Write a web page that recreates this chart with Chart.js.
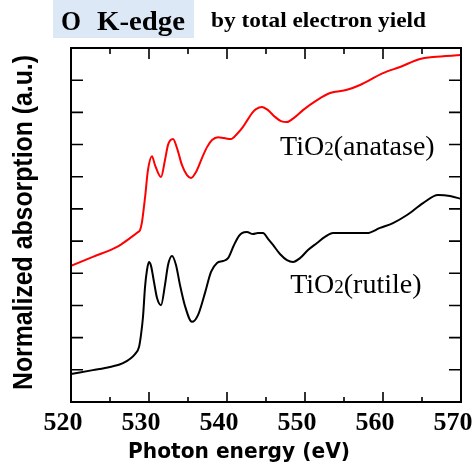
<!DOCTYPE html>
<html>
<head>
<meta charset="utf-8">
<script src="https://cdn.jsdelivr.net/npm/chart.js@4.4.1/dist/chart.umd.min.js"></script>
<style>
  html, body { margin: 0; padding: 0; background: #fff; }
  #wrap { width: 473px; height: 475px; }
</style>
</head>
<body>
<div id="wrap"><canvas id="xasChart" width="473" height="475"></canvas></div>
<script>
// O K-edge XAS, total electron yield
const xTicks = [520, 530, 540, 550, 560, 570];

const anataseEnergy = [520.0, 522.8, 525.9, 527.6, 528.6, 528.85, 529.1, 529.5, 529.87, 530.38, 530.77, 531.54,
  532.05, 532.44, 533.08, 533.59, 534.23, 534.87, 535.38, 536.03, 536.79, 537.44, 538.08, 538.85, 539.62,
  540.51, 541.28, 542.05, 542.69, 543.21, 543.72, 544.49, 545.26, 546.15, 546.92, 547.69, 548.59, 549.74,
  551.54, 553.21, 555.38, 557.05, 560.0, 562.18, 564.74, 566.41, 570.0];
const anataseAbs = [4.23, 4.51, 4.82, 5.10, 5.28, 5.34, 5.59, 6.37, 7.21, 7.64, 7.36, 6.99,
  7.52, 7.99, 8.17, 7.89, 7.36, 7.05, 6.96, 7.15, 7.58, 7.92, 8.14, 8.23, 8.20,
  8.17, 8.33, 8.55, 8.79, 8.98, 9.10, 9.17, 9.07, 8.86, 8.73, 8.70, 8.83, 9.07,
  9.38, 9.60, 9.70, 9.85, 10.22, 10.41, 10.66, 10.72, 10.78];

const rutileEnergy = [520.0, 522.8, 525.0, 526.67, 528.21, 528.72, 528.97, 529.23, 529.49, 529.74, 530.0,
  530.26, 530.64, 531.03, 531.54, 532.05, 532.44, 532.95, 533.46, 533.97, 534.62, 535.51, 536.28,
  537.18, 537.95, 538.72, 539.49, 540.13, 540.9, 541.54, 541.92, 542.56, 543.33, 543.97, 544.62,
  545.26, 545.9, 546.79, 547.69, 548.46, 549.36, 550.38, 551.54, 552.56, 553.59, 555.77, 557.95,
  559.62, 561.28, 563.08, 565.13, 567.05, 568.59, 570.0];
const rutileAbs = [0.87, 0.99, 1.09, 1.21, 1.49, 1.71, 2.08, 2.64, 3.57, 4.10, 4.35,
  4.23, 3.73, 3.23, 3.01, 3.64, 4.26, 4.54, 4.26, 3.64, 2.98, 2.49, 2.70,
  3.39, 4.04, 4.32, 4.38, 4.47, 4.88, 5.16, 5.25, 5.28, 5.22, 5.25, 5.25,
  5.07, 4.88, 4.60, 4.41, 4.35, 4.47, 4.72, 4.94, 5.13, 5.25, 5.25, 5.25,
  5.41, 5.56, 5.81, 6.18, 6.43, 6.40, 6.31];

const yMax = 11;

function toPoints(xs, ys) {
  return xs.map((x, i) => ({ x: x, y: ys[i] }));
}

// draw text squeezed/stretched to a given width
function fitText(ctx, text, x, y, width) {
  const w = ctx.measureText(text).width;
  ctx.save();
  ctx.translate(x, y);
  ctx.scale(width / w, 1);
  ctx.fillText(text, 0, 0);
  ctx.restore();
}

function drawFormula(ctx, x, y, tail) {
  ctx.textAlign = 'left';
  ctx.textBaseline = 'alphabetic';
  ctx.font = '28px "Liberation Serif"';
  ctx.fillText('TiO', x, y);
  x += ctx.measureText('TiO').width;
  ctx.font = '19px "Liberation Serif"';
  ctx.fillText('2', x, y);
  x += ctx.measureText('2').width;
  ctx.font = '28px "Liberation Serif"';
  ctx.fillText(tail, x, y);
}

const frameTicks = {
  id: 'frameTicks',
  afterDatasetsDraw(chart) {
    const { ctx, chartArea: a, scales: { x, y } } = chart;
    ctx.save();
    ctx.strokeStyle = '#000';
    ctx.lineWidth = 1.6;
    ctx.beginPath();
    for (let v = x.min; v <= x.max; v += 5) {
      const px = x.getPixelForValue(v);
      const major = v % 10 === 0;
      ctx.moveTo(px, a.bottom); ctx.lineTo(px, a.bottom - (major ? 10 : 5));
      ctx.moveTo(px, a.top); ctx.lineTo(px, a.top + (major ? 11 : 6));
    }
    for (let v = 1; v < y.max; v++) {
      const py = y.getPixelForValue(v);
      ctx.moveTo(a.left, py); ctx.lineTo(a.left + 12, py);
      ctx.moveTo(a.right, py); ctx.lineTo(a.right - 12, py);
    }
    ctx.stroke();
    ctx.lineWidth = 2;
    ctx.strokeRect(a.left, a.top, a.right - a.left, a.bottom - a.top);
    ctx.restore();
  }
};

const annotations = {
  id: 'annotations',
  afterDraw(chart) {
    const { ctx, scales: { x, y } } = chart;
    ctx.save();

    // header
    ctx.fillStyle = '#dce8f5';
    ctx.fillRect(53, 0, 141, 38);
    ctx.fillStyle = '#000';
    ctx.textAlign = 'left';
    ctx.textBaseline = 'alphabetic';
    ctx.font = 'bold 28px "Liberation Serif"';
    fitText(ctx, 'O', 61, 30, 20);
    fitText(ctx, 'K-edge', 97, 30, 88);
    ctx.font = 'bold 21px "Liberation Serif"';
    fitText(ctx, 'by total electron yield', 211, 27, 215);

    // series labels
    drawFormula(ctx, x.getPixelForValue(546.8), y.getPixelForValue(7.68), '(anatase)');
    drawFormula(ctx, x.getPixelForValue(548.1), y.getPixelForValue(3.39), '(rutile)');

    // x axis title
    ctx.font = 'bold 21px "DejaVu Sans"';
    fitText(ctx, 'Photon energy (eV)', 128, 458, 222);

    // y axis title
    ctx.save();
    ctx.translate(32, 390);
    ctx.rotate(-Math.PI / 2);
    ctx.font = 'bold 27px "Liberation Sans"';
    fitText(ctx, 'Normalized absorption (a.u.)', 0, 0, 335);
    ctx.restore();

    ctx.restore();
  }
};

const ctx = document.getElementById('xasChart').getContext('2d');
new Chart(ctx, {
  type: 'line',
  data: {
    datasets: [
      {
        label: 'TiO2 (anatase)',
        data: toPoints(anataseEnergy, anataseAbs),
        borderColor: '#ff0000',
        borderWidth: 2,
        pointRadius: 0,
        fill: false,
        cubicInterpolationMode: 'monotone'
      },
      {
        label: 'TiO2 (rutile)',
        data: toPoints(rutileEnergy, rutileAbs),
        borderColor: '#000000',
        borderWidth: 2,
        pointRadius: 0,
        fill: false,
        cubicInterpolationMode: 'monotone'
      }
    ]
  },
  options: {
    responsive: false,
    animation: false,
    layout: { padding: { left: 71, right: 12, top: 48, bottom: 0 } },
    plugins: {
      legend: { display: false },
      tooltip: { enabled: false }
    },
    scales: {
      x: {
        type: 'linear',
        min: 520,
        max: 570,
        grid: { display: false, drawTicks: false },
        border: { display: false },
        afterBuildTicks: scale => { scale.ticks = xTicks.map(v => ({ value: v })); },
        afterFit: scale => {
          scale.height = 73;
          scale.paddingLeft = 0;
          scale.paddingRight = 0;
        },
        ticks: {
          color: '#000',
          padding: 6,
          labelOffset: -8,
          maxRotation: 0,
          autoSkip: false,
          font: { family: 'Liberation Serif', weight: 'bold', size: 26 }
        }
      },
      y: {
        display: false,
        min: 0,
        max: yMax
      }
    }
  },
  plugins: [frameTicks, annotations]
});
</script>
</body>
</html>
